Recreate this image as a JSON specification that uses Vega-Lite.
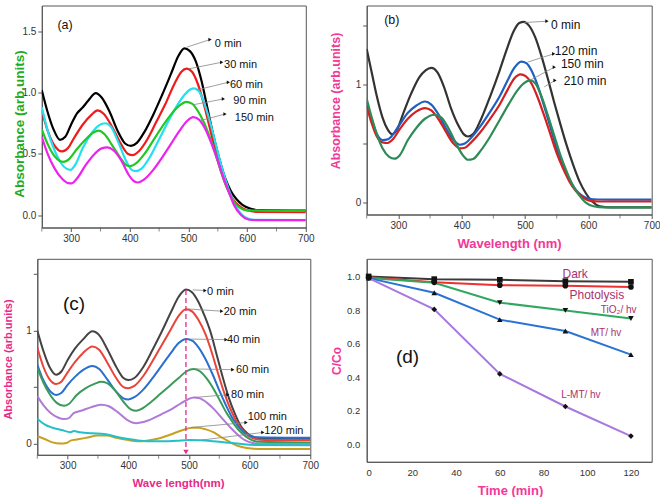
{
"$schema": "https://vega.github.io/schema/vega-lite/v6.json",
"background": "white",
"padding": {"left": 2.3, "top": 4.5, "right": 5, "bottom": 5},
"autosize": {"type": "pad"},
"bounds": "flush",
"columns": 2,
"align": "each",
"center": {"row": false, "column": true},
"spacing": {"row": 31.3, "column": 56.4},
"resolve": {"scale": {"color": "independent", "shape": "independent", "x": "independent", "y": "independent"}},
"config": {
 "font": "Liberation Sans",
 "view": {"stroke": "#555", "strokeWidth": 1},
 "axis": {"grid": false, "domainColor": "#555", "tickColor": "#555", "labelColor": "#333", "labelFontSize": 10, "labelFont": "Liberation Sans", "titleFont": "Liberation Sans", "titleFontWeight": "bold", "tickSize": 4, "labelPadding": 2, "titleBaseline": "middle", "labelFlush": false, "labelOverlap": false}
},
"datasets": {
"minor": [{"x":250},{"x":350},{"x":450},{"x":550},{"x":650}],
"a": [
{"s":"0 min","x":250,"y":1.02},{"s":"0 min","x":260,"y":0.84},{"s":"0 min","x":270,"y":0.70},{"s":"0 min","x":281,"y":0.615},{"s":"0 min","x":290,"y":0.64},{"s":"0 min","x":300,"y":0.74},{"s":"0 min","x":310,"y":0.83},{"s":"0 min","x":320,"y":0.88},{"s":"0 min","x":330,"y":0.94},{"s":"0 min","x":342,"y":0.995},{"s":"0 min","x":352,"y":0.96},{"s":"0 min","x":365,"y":0.85},{"s":"0 min","x":380,"y":0.68},{"s":"0 min","x":392,"y":0.585},{"s":"0 min","x":402,"y":0.565},{"s":"0 min","x":412,"y":0.59},{"s":"0 min","x":425,"y":0.68},{"s":"0 min","x":440,"y":0.82},{"s":"0 min","x":455,"y":0.98},{"s":"0 min","x":470,"y":1.15},{"s":"0 min","x":483,"y":1.30},{"s":"0 min","x":493,"y":1.36},{"s":"0 min","x":502,"y":1.34},{"s":"0 min","x":512,"y":1.26},{"s":"0 min","x":522,"y":1.10},{"s":"0 min","x":532,"y":0.88},{"s":"0 min","x":542,"y":0.66},{"s":"0 min","x":552,"y":0.47},{"s":"0 min","x":562,"y":0.31},{"s":"0 min","x":572,"y":0.20},{"s":"0 min","x":582,"y":0.13},{"s":"0 min","x":592,"y":0.085},{"s":"0 min","x":605,"y":0.055},{"s":"0 min","x":620,"y":0.042},{"s":"0 min","x":700,"y":0.038},
{"s":"30 min","x":250,"y":0.855},{"s":"30 min","x":260,"y":0.69},{"s":"30 min","x":270,"y":0.58},{"s":"30 min","x":285,"y":0.52},{"s":"30 min","x":295,"y":0.55},{"s":"30 min","x":305,"y":0.63},{"s":"30 min","x":320,"y":0.74},{"s":"30 min","x":335,"y":0.82},{"s":"30 min","x":345,"y":0.855},{"s":"30 min","x":355,"y":0.83},{"s":"30 min","x":370,"y":0.72},{"s":"30 min","x":385,"y":0.58},{"s":"30 min","x":397,"y":0.50},{"s":"30 min","x":405,"y":0.49},{"s":"30 min","x":415,"y":0.52},{"s":"30 min","x":430,"y":0.62},{"s":"30 min","x":445,"y":0.76},{"s":"30 min","x":460,"y":0.90},{"s":"30 min","x":475,"y":1.06},{"s":"30 min","x":488,"y":1.17},{"s":"30 min","x":497,"y":1.195},{"s":"30 min","x":506,"y":1.17},{"s":"30 min","x":516,"y":1.07},{"s":"30 min","x":526,"y":0.91},{"s":"30 min","x":536,"y":0.72},{"s":"30 min","x":546,"y":0.52},{"s":"30 min","x":556,"y":0.35},{"s":"30 min","x":566,"y":0.22},{"s":"30 min","x":576,"y":0.13},{"s":"30 min","x":588,"y":0.07},{"s":"30 min","x":600,"y":0.04},{"s":"30 min","x":615,"y":0.028},{"s":"30 min","x":700,"y":0.025},
{"s":"60 min","x":250,"y":0.88},{"s":"60 min","x":260,"y":0.69},{"s":"60 min","x":270,"y":0.55},{"s":"60 min","x":282,"y":0.43},{"s":"60 min","x":292,"y":0.38},{"s":"60 min","x":299,"y":0.37},{"s":"60 min","x":308,"y":0.42},{"s":"60 min","x":320,"y":0.55},{"s":"60 min","x":335,"y":0.67},{"s":"60 min","x":348,"y":0.735},{"s":"60 min","x":358,"y":0.75},{"s":"60 min","x":368,"y":0.72},{"s":"60 min","x":380,"y":0.60},{"s":"60 min","x":393,"y":0.45},{"s":"60 min","x":403,"y":0.37},{"s":"60 min","x":410,"y":0.36},{"s":"60 min","x":420,"y":0.38},{"s":"60 min","x":435,"y":0.48},{"s":"60 min","x":450,"y":0.62},{"s":"60 min","x":465,"y":0.76},{"s":"60 min","x":480,"y":0.89},{"s":"60 min","x":493,"y":0.98},{"s":"60 min","x":503,"y":1.025},{"s":"60 min","x":510,"y":1.035},{"s":"60 min","x":518,"y":1.01},{"s":"60 min","x":528,"y":0.90},{"s":"60 min","x":538,"y":0.74},{"s":"60 min","x":548,"y":0.55},{"s":"60 min","x":558,"y":0.37},{"s":"60 min","x":568,"y":0.22},{"s":"60 min","x":578,"y":0.10},{"s":"60 min","x":588,"y":0.02},{"s":"60 min","x":598,"y":-0.02},{"s":"60 min","x":612,"y":-0.038},{"s":"60 min","x":700,"y":-0.04},
{"s":"90 min","x":250,"y":0.70},{"s":"90 min","x":260,"y":0.58},{"s":"90 min","x":272,"y":0.48},{"s":"90 min","x":287,"y":0.435},{"s":"90 min","x":297,"y":0.46},{"s":"90 min","x":310,"y":0.54},{"s":"90 min","x":325,"y":0.62},{"s":"90 min","x":338,"y":0.675},{"s":"90 min","x":347,"y":0.69},{"s":"90 min","x":357,"y":0.66},{"s":"90 min","x":370,"y":0.57},{"s":"90 min","x":385,"y":0.46},{"s":"90 min","x":395,"y":0.405},{"s":"90 min","x":401,"y":0.40},{"s":"90 min","x":410,"y":0.42},{"s":"90 min","x":425,"y":0.50},{"s":"90 min","x":440,"y":0.61},{"s":"90 min","x":455,"y":0.72},{"s":"90 min","x":470,"y":0.82},{"s":"90 min","x":485,"y":0.895},{"s":"90 min","x":496,"y":0.925},{"s":"90 min","x":506,"y":0.91},{"s":"90 min","x":516,"y":0.85},{"s":"90 min","x":526,"y":0.76},{"s":"90 min","x":536,"y":0.64},{"s":"90 min","x":546,"y":0.50},{"s":"90 min","x":556,"y":0.35},{"s":"90 min","x":566,"y":0.22},{"s":"90 min","x":576,"y":0.12},{"s":"90 min","x":588,"y":0.06},{"s":"90 min","x":600,"y":0.04},{"s":"90 min","x":700,"y":0.035},
{"s":"150 min","x":250,"y":0.64},{"s":"150 min","x":260,"y":0.50},{"s":"150 min","x":272,"y":0.38},{"s":"150 min","x":285,"y":0.295},{"s":"150 min","x":295,"y":0.262},{"s":"150 min","x":301,"y":0.26},{"s":"150 min","x":310,"y":0.30},{"s":"150 min","x":325,"y":0.41},{"s":"150 min","x":340,"y":0.50},{"s":"150 min","x":352,"y":0.545},{"s":"150 min","x":362,"y":0.553},{"s":"150 min","x":372,"y":0.53},{"s":"150 min","x":385,"y":0.45},{"s":"150 min","x":398,"y":0.33},{"s":"150 min","x":408,"y":0.275},{"s":"150 min","x":414,"y":0.267},{"s":"150 min","x":424,"y":0.29},{"s":"150 min","x":440,"y":0.37},{"s":"150 min","x":455,"y":0.47},{"s":"150 min","x":470,"y":0.58},{"s":"150 min","x":485,"y":0.69},{"s":"150 min","x":498,"y":0.77},{"s":"150 min","x":508,"y":0.80},{"s":"150 min","x":518,"y":0.78},{"s":"150 min","x":528,"y":0.71},{"s":"150 min","x":538,"y":0.60},{"s":"150 min","x":548,"y":0.47},{"s":"150 min","x":558,"y":0.33},{"s":"150 min","x":568,"y":0.20},{"s":"150 min","x":578,"y":0.08},{"s":"150 min","x":590,"y":0.0},{"s":"150 min","x":602,"y":-0.035},{"s":"150 min","x":615,"y":-0.04},{"s":"150 min","x":700,"y":-0.04}
],
"b": [
{"s":"0 min","x":250,"y":1.30},{"s":"0 min","x":258,"y":1.10},{"s":"0 min","x":266,"y":0.90},{"s":"0 min","x":275,"y":0.72},{"s":"0 min","x":283,"y":0.62},{"s":"0 min","x":290,"y":0.58},{"s":"0 min","x":298,"y":0.62},{"s":"0 min","x":308,"y":0.76},{"s":"0 min","x":320,"y":0.92},{"s":"0 min","x":333,"y":1.06},{"s":"0 min","x":343,"y":1.12},{"s":"0 min","x":352,"y":1.14},{"s":"0 min","x":362,"y":1.10},{"s":"0 min","x":372,"y":0.98},{"s":"0 min","x":383,"y":0.80},{"s":"0 min","x":395,"y":0.65},{"s":"0 min","x":403,"y":0.58},{"s":"0 min","x":410,"y":0.56},{"s":"0 min","x":418,"y":0.58},{"s":"0 min","x":430,"y":0.70},{"s":"0 min","x":445,"y":0.90},{"s":"0 min","x":460,"y":1.12},{"s":"0 min","x":472,"y":1.31},{"s":"0 min","x":482,"y":1.45},{"s":"0 min","x":491,"y":1.52},{"s":"0 min","x":498,"y":1.53},{"s":"0 min","x":506,"y":1.50},{"s":"0 min","x":516,"y":1.40},{"s":"0 min","x":526,"y":1.24},{"s":"0 min","x":536,"y":1.05},{"s":"0 min","x":546,"y":0.85},{"s":"0 min","x":556,"y":0.66},{"s":"0 min","x":566,"y":0.48},{"s":"0 min","x":576,"y":0.32},{"s":"0 min","x":586,"y":0.18},{"s":"0 min","x":596,"y":0.08},{"s":"0 min","x":606,"y":0.01},{"s":"0 min","x":618,"y":-0.03},{"s":"0 min","x":635,"y":-0.04},{"s":"0 min","x":700,"y":-0.04},
{"s":"120 min","x":250,"y":0.85},{"s":"120 min","x":258,"y":0.70},{"s":"120 min","x":266,"y":0.58},{"s":"120 min","x":275,"y":0.53},{"s":"120 min","x":283,"y":0.535},{"s":"120 min","x":292,"y":0.58},{"s":"120 min","x":302,"y":0.66},{"s":"120 min","x":315,"y":0.76},{"s":"120 min","x":328,"y":0.82},{"s":"120 min","x":342,"y":0.856},{"s":"120 min","x":352,"y":0.83},{"s":"120 min","x":363,"y":0.75},{"s":"120 min","x":375,"y":0.63},{"s":"120 min","x":387,"y":0.53},{"s":"120 min","x":397,"y":0.49},{"s":"120 min","x":405,"y":0.50},{"s":"120 min","x":415,"y":0.55},{"s":"120 min","x":430,"y":0.65},{"s":"120 min","x":445,"y":0.77},{"s":"120 min","x":460,"y":0.90},{"s":"120 min","x":472,"y":1.03},{"s":"120 min","x":483,"y":1.14},{"s":"120 min","x":494,"y":1.194},{"s":"120 min","x":502,"y":1.18},{"s":"120 min","x":510,"y":1.12},{"s":"120 min","x":520,"y":0.99},{"s":"120 min","x":530,"y":0.82},{"s":"120 min","x":540,"y":0.64},{"s":"120 min","x":550,"y":0.46},{"s":"120 min","x":560,"y":0.32},{"s":"120 min","x":570,"y":0.20},{"s":"120 min","x":580,"y":0.11},{"s":"120 min","x":590,"y":0.06},{"s":"120 min","x":600,"y":0.035},{"s":"120 min","x":615,"y":0.027},{"s":"120 min","x":700,"y":0.025},
{"s":"150 min","x":250,"y":0.82},{"s":"150 min","x":258,"y":0.67},{"s":"150 min","x":266,"y":0.56},{"s":"150 min","x":275,"y":0.51},{"s":"150 min","x":283,"y":0.505},{"s":"150 min","x":292,"y":0.54},{"s":"150 min","x":302,"y":0.62},{"s":"150 min","x":315,"y":0.71},{"s":"150 min","x":328,"y":0.77},{"s":"150 min","x":342,"y":0.80},{"s":"150 min","x":352,"y":0.78},{"s":"150 min","x":363,"y":0.71},{"s":"150 min","x":375,"y":0.60},{"s":"150 min","x":387,"y":0.50},{"s":"150 min","x":397,"y":0.46},{"s":"150 min","x":405,"y":0.465},{"s":"150 min","x":415,"y":0.51},{"s":"150 min","x":430,"y":0.60},{"s":"150 min","x":445,"y":0.71},{"s":"150 min","x":460,"y":0.83},{"s":"150 min","x":472,"y":0.95},{"s":"150 min","x":483,"y":1.05},{"s":"150 min","x":493,"y":1.085},{"s":"150 min","x":501,"y":1.07},{"s":"150 min","x":510,"y":1.01},{"s":"150 min","x":520,"y":0.89},{"s":"150 min","x":530,"y":0.74},{"s":"150 min","x":540,"y":0.58},{"s":"150 min","x":550,"y":0.42},{"s":"150 min","x":560,"y":0.29},{"s":"150 min","x":570,"y":0.18},{"s":"150 min","x":580,"y":0.10},{"s":"150 min","x":590,"y":0.05},{"s":"150 min","x":600,"y":0.02},{"s":"150 min","x":615,"y":0.01},{"s":"150 min","x":700,"y":0.01},
{"s":"210 min","x":250,"y":0.88},{"s":"210 min","x":258,"y":0.72},{"s":"210 min","x":266,"y":0.58},{"s":"210 min","x":275,"y":0.46},{"s":"210 min","x":285,"y":0.39},{"s":"210 min","x":294,"y":0.372},{"s":"210 min","x":302,"y":0.40},{"s":"210 min","x":315,"y":0.53},{"s":"210 min","x":328,"y":0.63},{"s":"210 min","x":342,"y":0.71},{"s":"210 min","x":357,"y":0.744},{"s":"210 min","x":368,"y":0.72},{"s":"210 min","x":380,"y":0.62},{"s":"210 min","x":392,"y":0.49},{"s":"210 min","x":402,"y":0.40},{"s":"210 min","x":410,"y":0.363},{"s":"210 min","x":418,"y":0.37},{"s":"210 min","x":430,"y":0.44},{"s":"210 min","x":445,"y":0.56},{"s":"210 min","x":460,"y":0.70},{"s":"210 min","x":475,"y":0.84},{"s":"210 min","x":488,"y":0.95},{"s":"210 min","x":498,"y":1.01},{"s":"210 min","x":508,"y":1.034},{"s":"210 min","x":516,"y":1.01},{"s":"210 min","x":526,"y":0.90},{"s":"210 min","x":536,"y":0.74},{"s":"210 min","x":546,"y":0.57},{"s":"210 min","x":556,"y":0.40},{"s":"210 min","x":566,"y":0.26},{"s":"210 min","x":576,"y":0.14},{"s":"210 min","x":586,"y":0.06},{"s":"210 min","x":596,"y":0.0},{"s":"210 min","x":608,"y":-0.03},{"s":"210 min","x":625,"y":-0.04},{"s":"210 min","x":700,"y":-0.04}
],
"c": [
{"s":"0 min","x":250,"y":1.00},{"s":"0 min","x":260,"y":0.82},{"s":"0 min","x":270,"y":0.68},{"s":"0 min","x":281,"y":0.61},{"s":"0 min","x":290,"y":0.64},{"s":"0 min","x":300,"y":0.74},{"s":"0 min","x":312,"y":0.84},{"s":"0 min","x":325,"y":0.92},{"s":"0 min","x":341,"y":0.994},{"s":"0 min","x":352,"y":0.96},{"s":"0 min","x":365,"y":0.84},{"s":"0 min","x":380,"y":0.68},{"s":"0 min","x":392,"y":0.58},{"s":"0 min","x":400,"y":0.562},{"s":"0 min","x":410,"y":0.58},{"s":"0 min","x":425,"y":0.68},{"s":"0 min","x":440,"y":0.83},{"s":"0 min","x":455,"y":0.99},{"s":"0 min","x":470,"y":1.16},{"s":"0 min","x":483,"y":1.30},{"s":"0 min","x":495,"y":1.364},{"s":"0 min","x":505,"y":1.34},{"s":"0 min","x":515,"y":1.26},{"s":"0 min","x":525,"y":1.14},{"s":"0 min","x":536,"y":0.98},{"s":"0 min","x":546,"y":0.78},{"s":"0 min","x":556,"y":0.58},{"s":"0 min","x":566,"y":0.40},{"s":"0 min","x":576,"y":0.26},{"s":"0 min","x":586,"y":0.15},{"s":"0 min","x":596,"y":0.09},{"s":"0 min","x":608,"y":0.055},{"s":"0 min","x":625,"y":0.042},{"s":"0 min","x":700,"y":0.04},
{"s":"20 min","x":250,"y":0.85},{"s":"20 min","x":260,"y":0.68},{"s":"20 min","x":270,"y":0.57},{"s":"20 min","x":281,"y":0.527},{"s":"20 min","x":290,"y":0.55},{"s":"20 min","x":300,"y":0.63},{"s":"20 min","x":312,"y":0.72},{"s":"20 min","x":325,"y":0.80},{"s":"20 min","x":341,"y":0.86},{"s":"20 min","x":352,"y":0.83},{"s":"20 min","x":365,"y":0.72},{"s":"20 min","x":380,"y":0.58},{"s":"20 min","x":392,"y":0.50},{"s":"20 min","x":400,"y":0.49},{"s":"20 min","x":410,"y":0.51},{"s":"20 min","x":425,"y":0.60},{"s":"20 min","x":440,"y":0.73},{"s":"20 min","x":455,"y":0.87},{"s":"20 min","x":470,"y":1.01},{"s":"20 min","x":483,"y":1.13},{"s":"20 min","x":495,"y":1.19},{"s":"20 min","x":505,"y":1.17},{"s":"20 min","x":515,"y":1.10},{"s":"20 min","x":527,"y":0.97},{"s":"20 min","x":538,"y":0.80},{"s":"20 min","x":548,"y":0.62},{"s":"20 min","x":558,"y":0.45},{"s":"20 min","x":568,"y":0.31},{"s":"20 min","x":578,"y":0.20},{"s":"20 min","x":588,"y":0.12},{"s":"20 min","x":598,"y":0.07},{"s":"20 min","x":610,"y":0.04},{"s":"20 min","x":625,"y":0.032},{"s":"20 min","x":700,"y":0.03},
{"s":"40 min","x":250,"y":0.70},{"s":"40 min","x":260,"y":0.56},{"s":"40 min","x":270,"y":0.47},{"s":"40 min","x":281,"y":0.43},{"s":"40 min","x":290,"y":0.45},{"s":"40 min","x":300,"y":0.52},{"s":"40 min","x":312,"y":0.59},{"s":"40 min","x":325,"y":0.65},{"s":"40 min","x":341,"y":0.686},{"s":"40 min","x":352,"y":0.66},{"s":"40 min","x":365,"y":0.57},{"s":"40 min","x":380,"y":0.46},{"s":"40 min","x":392,"y":0.40},{"s":"40 min","x":400,"y":0.39},{"s":"40 min","x":410,"y":0.41},{"s":"40 min","x":425,"y":0.48},{"s":"40 min","x":440,"y":0.58},{"s":"40 min","x":455,"y":0.69},{"s":"40 min","x":470,"y":0.80},{"s":"40 min","x":483,"y":0.89},{"s":"40 min","x":496,"y":0.926},{"s":"40 min","x":506,"y":0.91},{"s":"40 min","x":516,"y":0.85},{"s":"40 min","x":528,"y":0.74},{"s":"40 min","x":540,"y":0.60},{"s":"40 min","x":550,"y":0.47},{"s":"40 min","x":560,"y":0.35},{"s":"40 min","x":570,"y":0.24},{"s":"40 min","x":580,"y":0.16},{"s":"40 min","x":590,"y":0.10},{"s":"40 min","x":600,"y":0.07},{"s":"40 min","x":612,"y":0.055},{"s":"40 min","x":700,"y":0.05},
{"s":"60 min","x":250,"y":0.67},{"s":"60 min","x":260,"y":0.54},{"s":"60 min","x":270,"y":0.44},{"s":"60 min","x":282,"y":0.36},{"s":"60 min","x":294,"y":0.334},{"s":"60 min","x":302,"y":0.35},{"s":"60 min","x":315,"y":0.43},{"s":"60 min","x":330,"y":0.49},{"s":"60 min","x":345,"y":0.53},{"s":"60 min","x":355,"y":0.547},{"s":"60 min","x":365,"y":0.535},{"s":"60 min","x":378,"y":0.47},{"s":"60 min","x":392,"y":0.37},{"s":"60 min","x":405,"y":0.30},{"s":"60 min","x":413,"y":0.29},{"s":"60 min","x":423,"y":0.31},{"s":"60 min","x":438,"y":0.37},{"s":"60 min","x":453,"y":0.44},{"s":"60 min","x":468,"y":0.51},{"s":"60 min","x":483,"y":0.58},{"s":"60 min","x":496,"y":0.64},{"s":"60 min","x":508,"y":0.66},{"s":"60 min","x":518,"y":0.64},{"s":"60 min","x":530,"y":0.57},{"s":"60 min","x":542,"y":0.47},{"s":"60 min","x":552,"y":0.37},{"s":"60 min","x":562,"y":0.27},{"s":"60 min","x":572,"y":0.19},{"s":"60 min","x":582,"y":0.12},{"s":"60 min","x":592,"y":0.07},{"s":"60 min","x":602,"y":0.035},{"s":"60 min","x":615,"y":0.015},{"s":"60 min","x":700,"y":0.01},
{"s":"80 min","x":250,"y":0.42},{"s":"80 min","x":260,"y":0.34},{"s":"80 min","x":272,"y":0.27},{"s":"80 min","x":284,"y":0.23},{"s":"80 min","x":294,"y":0.216},{"s":"80 min","x":302,"y":0.225},{"s":"80 min","x":310,"y":0.27},{"s":"80 min","x":322,"y":0.29},{"s":"80 min","x":338,"y":0.32},{"s":"80 min","x":355,"y":0.343},{"s":"80 min","x":368,"y":0.33},{"s":"80 min","x":382,"y":0.28},{"s":"80 min","x":398,"y":0.21},{"s":"80 min","x":413,"y":0.18},{"s":"80 min","x":425,"y":0.19},{"s":"80 min","x":440,"y":0.22},{"s":"80 min","x":455,"y":0.26},{"s":"80 min","x":470,"y":0.30},{"s":"80 min","x":485,"y":0.35},{"s":"80 min","x":498,"y":0.39},{"s":"80 min","x":508,"y":0.408},{"s":"80 min","x":518,"y":0.40},{"s":"80 min","x":530,"y":0.36},{"s":"80 min","x":542,"y":0.30},{"s":"80 min","x":555,"y":0.22},{"s":"80 min","x":567,"y":0.15},{"s":"80 min","x":580,"y":0.08},{"s":"80 min","x":592,"y":0.03},{"s":"80 min","x":605,"y":0.005},{"s":"80 min","x":620,"y":-0.005},{"s":"80 min","x":700,"y":-0.005},
{"s":"100 min","x":250,"y":0.065},{"s":"100 min","x":262,"y":0.04},{"s":"100 min","x":275,"y":0.01},{"s":"100 min","x":288,"y":0.0},{"s":"100 min","x":298,"y":0.005},{"s":"100 min","x":305,"y":0.025},{"s":"100 min","x":315,"y":0.035},{"s":"100 min","x":330,"y":0.05},{"s":"100 min","x":350,"y":0.07},{"s":"100 min","x":365,"y":0.07},{"s":"100 min","x":380,"y":0.05},{"s":"100 min","x":400,"y":0.03},{"s":"100 min","x":415,"y":0.02},{"s":"100 min","x":430,"y":0.025},{"s":"100 min","x":450,"y":0.045},{"s":"100 min","x":470,"y":0.08},{"s":"100 min","x":490,"y":0.12},{"s":"100 min","x":505,"y":0.14},{"s":"100 min","x":515,"y":0.14},{"s":"100 min","x":528,"y":0.125},{"s":"100 min","x":540,"y":0.10},{"s":"100 min","x":552,"y":0.06},{"s":"100 min","x":565,"y":0.02},{"s":"100 min","x":580,"y":-0.02},{"s":"100 min","x":595,"y":-0.04},{"s":"100 min","x":615,"y":-0.048},{"s":"100 min","x":700,"y":-0.048},
{"s":"120 min","x":250,"y":0.22},{"s":"120 min","x":262,"y":0.17},{"s":"120 min","x":275,"y":0.14},{"s":"120 min","x":290,"y":0.12},{"s":"120 min","x":305,"y":0.10},{"s":"120 min","x":310,"y":0.11},{"s":"120 min","x":320,"y":0.10},{"s":"120 min","x":340,"y":0.09},{"s":"120 min","x":360,"y":0.085},{"s":"120 min","x":380,"y":0.06},{"s":"120 min","x":400,"y":0.04},{"s":"120 min","x":420,"y":0.025},{"s":"120 min","x":440,"y":0.02},{"s":"120 min","x":460,"y":0.02},{"s":"120 min","x":480,"y":0.025},{"s":"120 min","x":500,"y":0.03},{"s":"120 min","x":520,"y":0.028},{"s":"120 min","x":540,"y":0.02},{"s":"120 min","x":560,"y":0.01},{"s":"120 min","x":580,"y":0.0},{"s":"120 min","x":600,"y":-0.012},{"s":"120 min","x":700,"y":-0.015}
],
"d": [
{"s":"Dark","x":0,"y":1.0},{"s":"Dark","x":30,"y":0.984},{"s":"Dark","x":60,"y":0.98},{"s":"Dark","x":90,"y":0.972},{"s":"Dark","x":120,"y":0.968},
{"s":"Photolysis","x":0,"y":0.995},{"s":"Photolysis","x":30,"y":0.965},{"s":"Photolysis","x":60,"y":0.948},{"s":"Photolysis","x":90,"y":0.945},{"s":"Photolysis","x":120,"y":0.937},
{"s":"TiO2","x":0,"y":0.99},{"s":"TiO2","x":30,"y":0.962},{"s":"TiO2","x":60,"y":0.844},{"s":"TiO2","x":90,"y":0.798},{"s":"TiO2","x":120,"y":0.75},
{"s":"MT","x":0,"y":0.99},{"s":"MT","x":30,"y":0.903},{"s":"MT","x":60,"y":0.743},{"s":"MT","x":90,"y":0.675},{"s":"MT","x":120,"y":0.535},
{"s":"L-MT","x":0,"y":0.99},{"s":"L-MT","x":30,"y":0.804},{"s":"L-MT","x":60,"y":0.42},{"s":"L-MT","x":90,"y":0.226},{"s":"L-MT","x":120,"y":0.05}
],
"arr": [
{"p":"a","x":497,"y":1.37,"x2":536.7,"y2":1.432},
{"p":"a","x":500,"y":1.193,"x2":556.6,"y2":1.247},
{"p":"a","x":514,"y":1.021,"x2":568,"y2":1.084},
{"p":"a","x":508.4,"y":0.901,"x2":559.5,"y2":0.948},
{"p":"a","x":519.7,"y":0.771,"x2":562.3,"y2":0.825},
{"p":"b","x":498.8,"y":1.524,"x2":534.6,"y2":1.535},
{"p":"b","x":504,"y":1.189,"x2":545.2,"y2":1.259},
{"p":"b","x":509.4,"y":1.04,"x2":546.2,"y2":1.146},
{"p":"b","x":530.4,"y":0.98,"x2":547.3,"y2":1.034},
{"p":"c","x":506.2,"y":1.361,"x2":526.5,"y2":1.355},
{"p":"c","x":498,"y":1.192,"x2":554,"y2":1.172},
{"p":"c","x":503.4,"y":0.925,"x2":561.1,"y2":0.92},
{"p":"c","x":511.7,"y":0.66,"x2":572.2,"y2":0.654},
{"p":"c","x":508.9,"y":0.408,"x2":564,"y2":0.432},
{"p":"c","x":503.4,"y":0.142,"x2":594.1,"y2":0.186},
{"p":"c","x":520,"y":0.03,"x2":621.7,"y2":0.098}
],
"lab": [
{"p":"a","x":545,"y":1.40,"t":"0 min"},
{"p":"a","x":560.6,"y":1.228,"t":"30 min"},
{"p":"a","x":570.8,"y":1.064,"t":"60 min"},
{"p":"a","x":576.5,"y":0.928,"t":"90 min"},
{"p":"a","x":579,"y":0.79,"t":"150 min"},
{"p":"b","x":541,"y":1.507,"t":"0 min"},
{"p":"b","x":547,"y":1.287,"t":"120 min"},
{"p":"b","x":556.7,"y":1.169,"t":"150 min"},
{"p":"b","x":561,"y":1.028,"t":"210 min"},
{"p":"c","x":529.8,"y":1.34,"t":"0 min"},
{"p":"c","x":557.3,"y":1.169,"t":"20 min"},
{"p":"c","x":562.8,"y":0.917,"t":"40 min"},
{"p":"c","x":577.6,"y":0.65,"t":"60 min"},
{"p":"c","x":569.4,"y":0.429,"t":"80 min"},
{"p":"c","x":596.9,"y":0.231,"t":"100 min"},
{"p":"c","x":624.3,"y":0.109,"t":"120 min"}
],
"tag": [
{"p":"a","x":289.7,"y":1.547,"t":"(a)"},
{"p":"b","x":289.6,"y":1.547,"t":"(b)"},
{"p":"c","x":310.5,"y":1.24,"t":"(c)"},
{"p":"d","x":17.8,"y":0.52,"t":"(d)"}
],
"dlab": [
{"x":94.5,"y":1.016,"t":"Dark","g":"big"},
{"x":104.4,"y":0.891,"t":"Photolysis","g":"big"},
{"x":114.4,"y":0.802,"t":"TiO₂/ hv","g":"small"},
{"x":108.6,"y":0.665,"t":"MT/ hv","g":"small"},
{"x":97.1,"y":0.297,"t":"L-MT/ hv","g":"small"}
],
"dash": [
{"x":495,"y":1.36,"y2":-0.06,"ya":-0.075}
]
},
"concat": [
{
 "width": 264, "height": 222,
 "layer": [
  {"data": {"name": "a"},
   "mark": {"type": "line", "strokeWidth": 2.2, "interpolate": "monotone", "clip": true},
   "encoding": {
    "x": {"field": "x", "type": "quantitative", "scale": {"domain": [250, 700], "nice": false, "zero": false},
      "axis": {"title": null, "values": [300,400,500,600,700], "format": "d"}},
    "y": {"field": "y", "type": "quantitative", "scale": {"domain": [-0.1, 1.71], "nice": false, "zero": false},
      "axis": {"title": "Absorbance (arb.units)", "values": [0,0.25,0.5,0.75,1,1.25,1.5], "labelExpr": "abs(datum.value*2 - round(datum.value*2)) < 0.001 ? format(datum.value, '.1f') : ''", "labelOverlap": false, "titleColor": "#22aa22", "titleFontSize": 13.5, "titleX": -22, "titleY": 118}},
    "color": {"field": "s", "type": "nominal", "legend": null, "scale": {"domain": ["0 min","30 min","60 min","90 min","150 min"], "range": ["#000000","#ee1c1c","#22e0f0","#22c822","#ee22ee"]}}
   }},
  {"data": {"name": "minor"},
   "mark": {"type": "tick", "orient": "vertical", "color": "#555", "size": 4, "thickness": 1, "yOffset": 2},
   "encoding": {"x": {"field": "x", "type": "quantitative"}, "y": {"datum": -0.1, "type": "quantitative"}}},
  {"data": {"name": "arr"}, "transform": [{"filter": "datum.p == 'a'"}],
   "mark": {"type": "rule", "color": "#888", "strokeWidth": 0.8},
   "encoding": {"x": {"field": "x", "type": "quantitative"}, "y": {"field": "y", "type": "quantitative"}, "x2": {"field": "x2"}, "y2": {"field": "y2"}}},
  {"data": {"name": "arr"}, "transform": [{"filter": "datum.p == 'a'"}],
   "mark": {"type": "point", "shape": "triangle-right", "filled": true, "color": "#111", "size": 14, "opacity": 1},
   "encoding": {"x": {"field": "x2", "type": "quantitative"}, "y": {"field": "y2", "type": "quantitative"}}},
  {"data": {"name": "lab"}, "transform": [{"filter": "datum.p == 'a'"}],
   "mark": {"type": "text", "align": "left", "baseline": "middle", "fontSize": 11, "color": "#111"},
   "encoding": {"x": {"field": "x", "type": "quantitative"}, "y": {"field": "y", "type": "quantitative"}, "text": {"field": "t"}}},
  {"data": {"name": "tag"}, "transform": [{"filter": "datum.p == 'a'"}],
   "mark": {"type": "text", "align": "center", "baseline": "middle", "fontSize": 12.5, "color": "#111"},
   "encoding": {"x": {"field": "x", "type": "quantitative"}, "y": {"field": "y", "type": "quantitative"}, "text": {"field": "t"}}}
 ]
},
{
 "width": 285, "height": 209,
 "layer": [
  {"data": {"name": "b"},
   "mark": {"type": "line", "strokeWidth": 2.2, "interpolate": "monotone", "clip": true},
   "encoding": {
    "x": {"field": "x", "type": "quantitative", "scale": {"domain": [250, 700], "nice": false, "zero": false},
      "axis": {"title": "Wavelength (nm)", "values": [300,400,500,600,700], "format": "d", "titleColor": "#f2399a", "titleFontSize": 13, "titleX": 142.3, "titleY": 29}},
    "y": {"field": "y", "type": "quantitative", "scale": {"domain": [-0.1, 1.668], "nice": false, "zero": false},
      "axis": {"title": "Absorbance (arb.units)", "values": [0,0.5,1,1.5], "labelExpr": "datum.value % 1 == 0 ? format(datum.value, 'd') : ''", "labelOverlap": false, "titleColor": "#f2399a", "titleFontSize": 12.5, "titleX": -30.7, "titleY": 95}},
    "color": {"field": "s", "type": "nominal", "legend": null, "scale": {"domain": ["0 min","120 min","150 min","210 min"], "range": ["#333333","#1f5fbf","#d42020","#2e8b57"]}}
   }},
  {"data": {"name": "minor"},
   "mark": {"type": "tick", "orient": "vertical", "color": "#555", "size": 4, "thickness": 1, "yOffset": 2},
   "encoding": {"x": {"field": "x", "type": "quantitative"}, "y": {"datum": -0.1, "type": "quantitative"}}},
  {"data": {"name": "arr"}, "transform": [{"filter": "datum.p == 'b'"}],
   "mark": {"type": "rule", "color": "#888", "strokeWidth": 0.8},
   "encoding": {"x": {"field": "x", "type": "quantitative"}, "y": {"field": "y", "type": "quantitative"}, "x2": {"field": "x2"}, "y2": {"field": "y2"}}},
  {"data": {"name": "arr"}, "transform": [{"filter": "datum.p == 'b'"}],
   "mark": {"type": "point", "shape": "triangle-right", "filled": true, "color": "#111", "size": 14, "opacity": 1},
   "encoding": {"x": {"field": "x2", "type": "quantitative"}, "y": {"field": "y2", "type": "quantitative"}}},
  {"data": {"name": "lab"}, "transform": [{"filter": "datum.p == 'b'"}],
   "mark": {"type": "text", "align": "left", "baseline": "middle", "fontSize": 12, "color": "#111"},
   "encoding": {"x": {"field": "x", "type": "quantitative"}, "y": {"field": "y", "type": "quantitative"}, "text": {"field": "t"}}},
  {"data": {"name": "tag"}, "transform": [{"filter": "datum.p == 'b'"}],
   "mark": {"type": "text", "align": "center", "baseline": "middle", "fontSize": 12.5, "color": "#111"},
   "encoding": {"x": {"field": "x", "type": "quantitative"}, "y": {"field": "y", "type": "quantitative"}, "text": {"field": "t"}}}
 ]
},
{
 "width": 273, "height": 196,
 "layer": [
  {"data": {"name": "c"},
   "mark": {"type": "line", "strokeWidth": 2, "interpolate": "monotone", "clip": true},
   "encoding": {
    "x": {"field": "x", "type": "quantitative", "scale": {"domain": [250, 700], "nice": false, "zero": false},
      "axis": {"title": "Wave length(nm)", "values": [300,400,500,600,700], "format": "d", "titleColor": "#e8288a", "titleFontSize": 11.5, "titleX": 140.7, "titleY": 28.7}},
    "y": {"field": "y", "type": "quantitative", "scale": {"domain": [-0.1, 1.636], "nice": false, "zero": false},
      "axis": {"title": "Absorbance (arb.units)", "values": [0,0.5,1,1.5], "labelExpr": "datum.value % 1 == 0 ? format(datum.value, 'd') : ''", "labelOverlap": false, "titleColor": "#e8288a", "titleFontSize": 11, "titleX": -28.3, "titleY": 100.2}},
    "color": {"field": "s", "type": "nominal", "legend": null, "scale": {"domain": ["0 min","20 min","40 min","60 min","80 min","100 min","120 min"], "range": ["#444444","#e8443a","#2a6fd0","#3a9a5a","#b07ad8","#c8a020","#22c0c8"]}}
   }},
  {"data": {"name": "minor"},
   "mark": {"type": "tick", "orient": "vertical", "color": "#555", "size": 4, "thickness": 1, "yOffset": 2},
   "encoding": {"x": {"field": "x", "type": "quantitative"}, "y": {"datum": -0.1, "type": "quantitative"}}},
  {"data": {"name": "dash"},
   "mark": {"type": "rule", "color": "#e8288a", "strokeWidth": 1.3, "strokeDash": [5, 3]},
   "encoding": {"x": {"field": "x", "type": "quantitative"}, "y": {"field": "y", "type": "quantitative"}, "y2": {"field": "y2"}}},
  {"data": {"name": "dash"},
   "mark": {"type": "point", "shape": "triangle-down", "filled": true, "color": "#e8288a", "size": 28, "opacity": 1},
   "encoding": {"x": {"field": "x", "type": "quantitative"}, "y": {"field": "ya", "type": "quantitative"}}},
  {"data": {"name": "arr"}, "transform": [{"filter": "datum.p == 'c'"}],
   "mark": {"type": "rule", "color": "#888", "strokeWidth": 0.8},
   "encoding": {"x": {"field": "x", "type": "quantitative"}, "y": {"field": "y", "type": "quantitative"}, "x2": {"field": "x2"}, "y2": {"field": "y2"}}},
  {"data": {"name": "arr"}, "transform": [{"filter": "datum.p == 'c'"}],
   "mark": {"type": "point", "shape": "triangle-right", "filled": true, "color": "#111", "size": 14, "opacity": 1},
   "encoding": {"x": {"field": "x2", "type": "quantitative"}, "y": {"field": "y2", "type": "quantitative"}}},
  {"data": {"name": "lab"}, "transform": [{"filter": "datum.p == 'c'"}],
   "mark": {"type": "text", "align": "left", "baseline": "middle", "fontSize": 11, "color": "#111"},
   "encoding": {"x": {"field": "x", "type": "quantitative"}, "y": {"field": "y", "type": "quantitative"}, "text": {"field": "t"}}},
  {"data": {"name": "tag"}, "transform": [{"filter": "datum.p == 'c'"}],
   "mark": {"type": "text", "align": "center", "baseline": "middle", "fontSize": 19, "color": "#111"},
   "encoding": {"x": {"field": "x", "type": "quantitative"}, "y": {"field": "y", "type": "quantitative"}, "text": {"field": "t"}}}
 ]
},
{
 "width": 285, "height": 203,
 "layer": [
  {"data": {"name": "d"},
   "mark": {"type": "line", "strokeWidth": 2, "clip": true},
   "encoding": {
    "x": {"field": "x", "type": "quantitative", "scale": {"domain": [-0.9, 129.5], "nice": false, "zero": false},
      "axis": {"title": "Time (min)", "values": [0,20,40,60,80,100,120], "ticks": false, "labelPadding": 6, "labelFontSize": 9.5, "titleColor": "#f2399a", "titleFontSize": 13, "titleX": 143.3, "titleY": 28.4}},
    "y": {"field": "y", "type": "quantitative", "scale": {"domain": [-0.103, 1.105], "nice": false, "zero": false},
      "axis": {"title": "C/Co", "values": [0,0.2,0.4,0.6,0.8,1.0], "format": ".1f", "ticks": false, "labelPadding": 7, "labelFontSize": 9.5, "titleColor": "#f2399a", "titleFontSize": 12, "titleX": -29.7, "titleY": 101.7}},
    "color": {"field": "s", "type": "nominal", "legend": null, "scale": {"domain": ["Dark","Photolysis","TiO2","MT","L-MT"], "range": ["#3a3a3a","#ee3030","#30a860","#2a72d6","#a878e0"]}}
   }},
  {"data": {"name": "d"},
   "mark": {"type": "point", "filled": true, "color": "#111", "size": 32, "opacity": 1},
   "encoding": {
    "x": {"field": "x", "type": "quantitative"},
    "y": {"field": "y", "type": "quantitative"},
    "shape": {"field": "s", "type": "nominal", "legend": null, "scale": {"domain": ["Dark","Photolysis","TiO2","MT","L-MT"], "range": ["square","circle","triangle-down","triangle-up","diamond"]}}
   }},
  {"data": {"name": "dlab"}, "transform": [{"filter": "datum.g == 'big'"}],
   "mark": {"type": "text", "align": "center", "baseline": "middle", "fontSize": 12, "color": "#a8326e"},
   "encoding": {"x": {"field": "x", "type": "quantitative"}, "y": {"field": "y", "type": "quantitative"}, "text": {"field": "t"}}},
  {"data": {"name": "dlab"}, "transform": [{"filter": "datum.g == 'small'"}],
   "mark": {"type": "text", "align": "center", "baseline": "middle", "fontSize": 10, "color": "#a8326e"},
   "encoding": {"x": {"field": "x", "type": "quantitative"}, "y": {"field": "y", "type": "quantitative"}, "text": {"field": "t"}}},
  {"data": {"name": "tag"}, "transform": [{"filter": "datum.p == 'd'"}],
   "mark": {"type": "text", "align": "center", "baseline": "middle", "fontSize": 19, "color": "#111"},
   "encoding": {"x": {"field": "x", "type": "quantitative"}, "y": {"field": "y", "type": "quantitative"}, "text": {"field": "t"}}}
 ]
}
]
}
